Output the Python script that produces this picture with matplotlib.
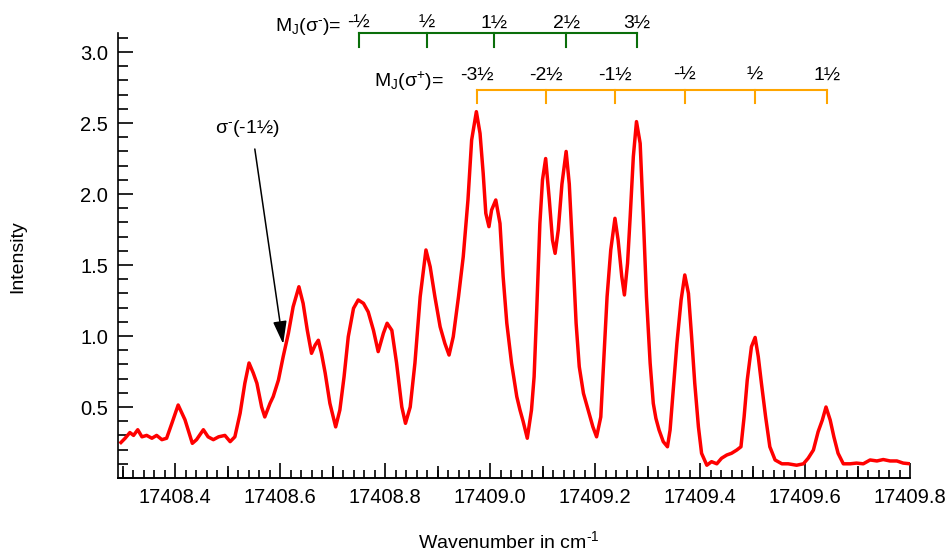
import numpy as np
import matplotlib
matplotlib.use("Agg")
import matplotlib.pyplot as plt
from matplotlib.ticker import MultipleLocator

plt.rcParams['font.family'] = ['Liberation Sans', 'DejaVu Sans']
plt.rcParams['mathtext.fontset'] = 'custom'
plt.rcParams['mathtext.rm'] = 'Liberation Sans'
plt.rcParams['mathtext.it'] = 'Liberation Sans'

# Spectrum (wavenumber, intensity)
wavenumber = [
    17408.297, 17408.305, 17408.314, 17408.321, 17408.329, 17408.337, 17408.346, 17408.356,
    17408.365, 17408.375, 17408.384, 17408.394, 17408.406, 17408.419, 17408.433, 17408.441,
    17408.454, 17408.463, 17408.473, 17408.483, 17408.495, 17408.505, 17408.514, 17408.524,
    17408.533, 17408.541, 17408.549, 17408.556, 17408.565, 17408.571, 17408.581, 17408.587,
    17408.597, 17408.606, 17408.616, 17408.625, 17408.636, 17408.644, 17408.652, 17408.660,
    17408.667, 17408.673, 17408.679, 17408.686, 17408.695, 17408.706, 17408.714, 17408.722,
    17408.730, 17408.740, 17408.749, 17408.759, 17408.768, 17408.778, 17408.787, 17408.797,
    17408.804, 17408.813, 17408.822, 17408.832, 17408.839, 17408.848, 17408.857, 17408.867,
    17408.878, 17408.886, 17408.895, 17408.905, 17408.914, 17408.922, 17408.930, 17408.940,
    17408.949, 17408.958, 17408.965, 17408.974, 17408.981, 17408.987, 17408.992, 17408.998,
    17409.003, 17409.011, 17409.019, 17409.025, 17409.032, 17409.041, 17409.051, 17409.057,
    17409.063, 17409.071, 17409.079, 17409.084, 17409.089, 17409.095, 17409.100, 17409.106,
    17409.113, 17409.119, 17409.124, 17409.130, 17409.137, 17409.145, 17409.151, 17409.158,
    17409.164, 17409.170, 17409.178, 17409.187, 17409.196, 17409.203, 17409.211, 17409.217,
    17409.223, 17409.230, 17409.238, 17409.244, 17409.251, 17409.256, 17409.262, 17409.267,
    17409.273, 17409.279, 17409.286, 17409.292, 17409.298, 17409.305, 17409.311, 17409.316,
    17409.322, 17409.330, 17409.338, 17409.343, 17409.349, 17409.356, 17409.364, 17409.371,
    17409.378, 17409.384, 17409.390, 17409.397, 17409.403, 17409.413, 17409.422, 17409.432,
    17409.441, 17409.451, 17409.460, 17409.470, 17409.478, 17409.484, 17409.490, 17409.498,
    17409.505, 17409.511, 17409.517, 17409.525, 17409.533, 17409.543, 17409.556, 17409.568,
    17409.584, 17409.597, 17409.606, 17409.616, 17409.625, 17409.633, 17409.640, 17409.648,
    17409.655, 17409.663, 17409.673, 17409.686, 17409.698, 17409.711, 17409.724, 17409.737,
    17409.749, 17409.762, 17409.775, 17409.787, 17409.800,
]
intensity = [
    0.25, 0.28, 0.32, 0.30, 0.34, 0.29, 0.30, 0.28,
    0.30, 0.27, 0.28, 0.385, 0.514, 0.41, 0.244, 0.27,
    0.34, 0.29, 0.27, 0.29, 0.30, 0.256, 0.29, 0.456,
    0.667, 0.81, 0.74, 0.667, 0.50, 0.43, 0.526, 0.573,
    0.69, 0.854, 1.02, 1.206, 1.347, 1.23, 1.04, 0.878,
    0.937, 0.97, 0.878, 0.74, 0.526, 0.36, 0.479, 0.713,
    0.995, 1.195, 1.254, 1.23, 1.17, 1.04, 0.89, 1.02,
    1.09, 1.04, 0.81, 0.50, 0.385, 0.50, 0.81, 1.277,
    1.606, 1.488, 1.277, 1.065, 0.948, 0.866, 0.995, 1.277,
    1.558, 1.958, 2.38, 2.58, 2.427, 2.146, 1.864, 1.77,
    1.887, 1.958, 1.793, 1.418, 1.09, 0.81, 0.573, 0.48,
    0.40, 0.28, 0.479, 0.713, 1.183, 1.793, 2.10, 2.25,
    1.958, 1.676, 1.582, 1.746, 2.07, 2.30, 2.07, 1.558,
    1.09, 0.784, 0.596, 0.479, 0.36, 0.29, 0.43, 0.854,
    1.277, 1.606, 1.829, 1.676, 1.418, 1.289, 1.512, 1.84,
    2.263, 2.51, 2.357, 1.84, 1.277, 0.81, 0.526, 0.42,
    0.338, 0.256, 0.22, 0.338, 0.62, 0.948, 1.254, 1.43,
    1.30, 0.995, 0.667, 0.36, 0.174, 0.09, 0.115, 0.10,
    0.139, 0.162, 0.174, 0.197, 0.22, 0.43, 0.69, 0.925,
    0.99, 0.854, 0.667, 0.43, 0.22, 0.127, 0.10, 0.10,
    0.09, 0.10, 0.139, 0.197, 0.326, 0.408, 0.50, 0.408,
    0.29, 0.174, 0.10, 0.10, 0.105, 0.10, 0.127, 0.12,
    0.13, 0.12, 0.12, 0.105, 0.10,
]

# M_J assignments
sigma_minus_pos = [17408.750, 17408.880, 17409.008, 17409.145, 17409.280]
sigma_minus_lab = ['-½', '½', '1½', '2½', '3½']
sigma_plus_pos = [17408.975, 17409.107, 17409.238, 17409.371, 17409.505, 17409.642]
sigma_plus_lab = ['-3½', '-2½', '-1½', '-½', '½', '1½']

fig = plt.figure(figsize=(9.5, 5.53), dpi=100)
ax = fig.add_axes([118/950, 1-478/553, (910-118)/950, (478-33)/553])

ax.plot(wavenumber, intensity, color='#ff0000', lw=2.5)

ax.set_xlim(17408.2914, 17409.8)
ax.set_ylim(0, 3.134)

for s in ['top', 'right']:
    ax.spines[s].set_visible(False)
for s in ['left', 'bottom']:
    ax.spines[s].set_linewidth(1.2)

ax.xaxis.set_major_locator(MultipleLocator(0.2))
ax.xaxis.set_minor_locator(MultipleLocator(0.02))
ax.yaxis.set_major_locator(MultipleLocator(0.5))
ax.yaxis.set_minor_locator(MultipleLocator(0.1))
ax.xaxis.set_major_formatter(plt.FuncFormatter(lambda v, p: f"{v:.1f}"))
ax.yaxis.set_major_formatter(plt.FuncFormatter(lambda v, p: "" if v < 0.25 else f"{v:.1f}"))
ax.tick_params(which='major', direction='in', length=11, width=1.2, labelsize=14.5, pad=7)
ax.tick_params(which='minor', direction='in', length=6, width=1.2)
ax.tick_params(axis='y', which='minor', length=7.5)

# medium ticks at the odd tenths
sec = ax.secondary_xaxis('bottom')
sec.set_xticks([17408.3, 17408.5, 17408.7, 17408.9, 17409.1, 17409.3, 17409.5, 17409.7])
sec.tick_params(direction='in', length=9, width=1.2, labelbottom=False)
sec.spines['bottom'].set_linewidth(1.2)

# bracket for sigma-
green = '#0a6e0a'
ax.plot([sigma_minus_pos[0], sigma_minus_pos[-1]], [3.134, 3.134], color=green, lw=1.5, clip_on=False)
for p, lab in zip(sigma_minus_pos, sigma_minus_lab):
    ax.plot([p, p], [3.134, 3.035], color=green, lw=1.5, clip_on=False)
    ax.text(p, 3.173, lab, ha='center', va='baseline', fontsize=14)
ax.text(17408.718, 3.148, r'M$_\mathrm{J}$(σ$^\text{-}$)=', ha='right', va='baseline', fontsize=14)

# bracket for sigma+
orange = '#ffa500'
ax.plot([sigma_plus_pos[0], sigma_plus_pos[-1]], [2.73, 2.73], color=orange, lw=1.5, clip_on=False)
for p, lab in zip(sigma_plus_pos, sigma_plus_lab):
    ax.plot([p, p], [2.73, 2.64], color=orange, lw=1.5, clip_on=False)
    ax.text(p, 2.803, lab, ha='center', va='baseline', fontsize=14)
ax.text(17408.912, 2.754, r'M$_\mathrm{J}$(σ$^\mathrm{+}$)=', ha='right', va='baseline', fontsize=14)

# arrow to the sigma-(-1.5) shoulder
ax.annotate('', xy=(17408.606, 0.944), xytext=(17408.552, 2.317),
            arrowprops=dict(arrowstyle='-|>,head_length=1.4,head_width=0.42',
                            color='black', lw=1.1, shrinkA=0, shrinkB=0))
ax.text(17408.537, 2.43, r'σ$^\text{-}$(-1½)', ha='center', va='baseline', fontsize=14)

fig.text(18/950, 1-257/553, 'Intensity', rotation=90, ha='center', va='center', fontsize=14)
fig.text(418/950, 5/553, r'Wavenumber in cm$^{\text{-}1}$', ha='left', va='baseline', fontsize=14)

fig.savefig('out.png', dpi=100)
